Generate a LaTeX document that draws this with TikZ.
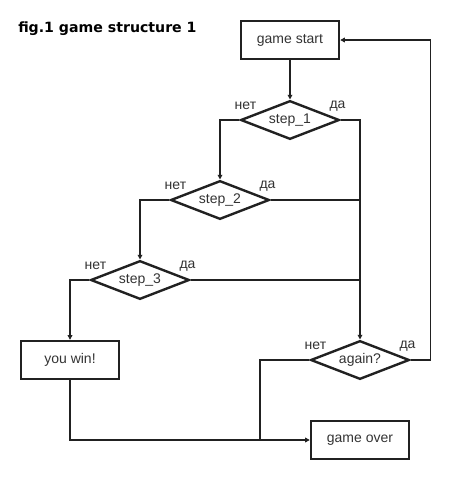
\documentclass[tikz,border=0pt]{standalone}
\usepackage{fontspec}
\setmainfont{Liberation Sans}
\newfontfamily\titlefont{DejaVu Sans}
\usetikzlibrary{positioning,shapes.geometric,arrows.meta}

\begin{document}
\begin{tikzpicture}
[x=0.75pt, y=-0.75pt,
block/.style ={rectangle, draw=black!87, line width=1.8pt,
text=black!80, font=\fontsize{10.5pt}{12pt}\selectfont,
minimum width=73.5pt, minimum height=28.5pt, inner sep=0pt},
decision/.style ={diamond, draw=black!87, line width=1.8pt,
text=black!80, font=\fontsize{10.5pt}{12pt}\selectfont,
minimum width=74pt, minimum height=29pt, inner sep=0pt, aspect=2.5},
lbl/.style ={text=black!80, font=\fontsize{10.5pt}{12pt}\selectfont, inner sep=0pt},
line/.style ={draw=black!87, line width=1.1pt, -{Triangle[length=3.5pt,width=3.5pt]}},
link/.style ={draw=black!87, line width=1.1pt}]
\useasboundingbox (0,0) rectangle (450,480);
\node[anchor=west, inner sep=0pt, font=\titlefont\bfseries\fontsize{10.6pt}{12pt}\selectfont]
 (title) at (18,29) {fig.1 game structure 1};
% boxes and decisions
\node [block] (start) at (290,40) {game start};
\node [decision] (s1) at (290,120) {step\_1};
\node [decision] (s2) at (220,200) {step\_2};
\node [decision] (s3) at (140,280) {step\_3};
\node [block] (win) at (70,360) {you win!};
\node [decision] (again) at (360,360) {again?};
\node [block] (over) at (360,440) {game over};
\coordinate (join) at (260,440);
% branch labels
\foreach \d in {s1,s2,s3,again} {
 \node [lbl] at ([shift={(6,-14)}]\d.west) {нет};
 \node [lbl] at ([shift={(-3,-14)}]\d.east) {да};
}
% connectors
\draw[line] (start) -- (s1);
\draw[line] (s1.west) -| (s2.north);
\draw[line] (s2.west) -| (s3.north);
\draw[line] (s3.west) -| (win.north);
\draw[line] (s1.east) -| (again.north);
\draw[link] (s2.east) -- (s2.east -| again.north);
\draw[link] (s3.east) -- (s3.east -| again.north);
\draw[line] (again.east) -- ++(20,0) |- (start.east);
\draw[link] (again.west) -| (join);
\draw[line] (win.south) |- (over.west);
\end{tikzpicture}
\end{document}
